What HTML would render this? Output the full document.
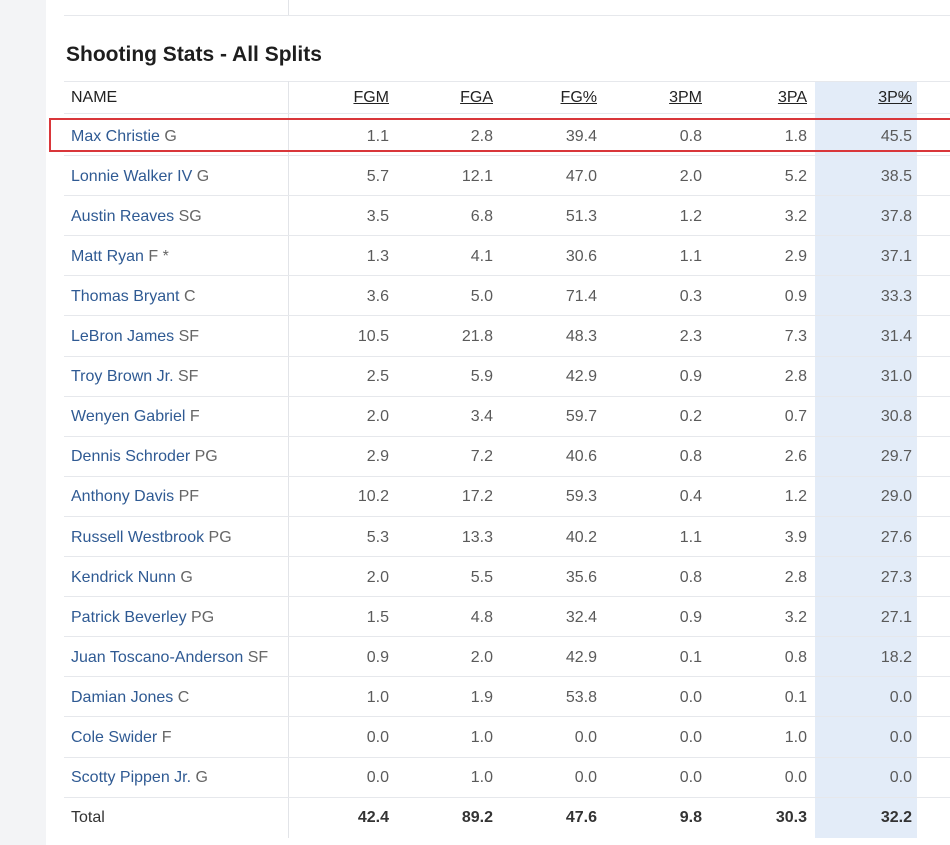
<!DOCTYPE html>
<html><head><style>
body{margin:0;width:950px;height:845px;overflow:hidden;background:#f3f4f6;font-family:"Liberation Sans",sans-serif;position:relative}
.panel{position:absolute;left:46px;top:0;width:904px;height:845px;background:#fff}
.abs{position:absolute}
.hl{position:absolute;left:815px;top:82px;width:102px;height:756px;background:#e3ecf8}
.line{position:absolute;left:64px;width:886px;height:1px;background:#e6e8ec}
.vline{position:absolute;left:288px;width:1px;background:#e2e4e8}
.row{position:absolute;left:0;width:950px;height:20px;font-size:16px;color:#5a5a5a}
.row .n{position:absolute;left:71px;color:#2f5a93}
.row .n span{color:#666}
.row .c{position:absolute;text-align:right;width:80px}
.hdr{font-size:16px;color:#222}
.hdr .c{text-decoration:underline}
.tot{color:#333;font-weight:bold}
.tot .n{color:#333;font-weight:normal}
</style></head><body>
<div class="panel"></div>
<div class="hl"></div>
<div class="line" style="top:15px"></div>
<div class="vline" style="top:0;height:15px"></div>
<div class="abs" style="left:66px;top:43px;font-size:21px;font-weight:bold;color:#1e1e1e">Shooting Stats - All Splits</div>
<div class="line" style="top:81px"></div>
<div class="vline" style="top:81px;height:757px"></div>
<div id="rows"></div>
<div class="abs" style="left:49px;top:118px;width:905px;height:30px;border:2px solid #d9363a"></div>
<svg class="abs" style="left:899px;top:93px" width="10" height="8"><polyline points="1,2 5,6 9,2" fill="none" stroke="#777" stroke-width="1.3"/></svg>
<script>
const R=[389,493,597,702,807,912];
const d=[
["Max Christie","G",1.1,2.8,39.4,0.8,1.8,45.5],
["Lonnie Walker IV","G",5.7,12.1,47.0,2.0,5.2,38.5],
["Austin Reaves","SG",3.5,6.8,51.3,1.2,3.2,37.8],
["Matt Ryan","F *",1.3,4.1,30.6,1.1,2.9,37.1],
["Thomas Bryant","C",3.6,5.0,71.4,0.3,0.9,33.3],
["LeBron James","SF",10.5,21.8,48.3,2.3,7.3,31.4],
["Troy Brown Jr.","SF",2.5,5.9,42.9,0.9,2.8,31.0],
["Wenyen Gabriel","F",2.0,3.4,59.7,0.2,0.7,30.8],
["Dennis Schroder","PG",2.9,7.2,40.6,0.8,2.6,29.7],
["Anthony Davis","PF",10.2,17.2,59.3,0.4,1.2,29.0],
["Russell Westbrook","PG",5.3,13.3,40.2,1.1,3.9,27.6],
["Kendrick Nunn","G",2.0,5.5,35.6,0.8,2.8,27.3],
["Patrick Beverley","PG",1.5,4.8,32.4,0.9,3.2,27.1],
["Juan Toscano-Anderson","SF",0.9,2.0,42.9,0.1,0.8,18.2],
["Damian Jones","C",1.0,1.9,53.8,0.0,0.1,0.0],
["Cole Swider","F",0.0,1.0,0.0,0.0,1.0,0.0],
["Scotty Pippen Jr.","G",0.0,1.0,0.0,0.0,0.0,0.0],
["Total","",42.4,89.2,47.6,9.8,30.3,32.2]];
let h='<div class="row hdr" style="top:89px"><div class="n" style="color:#222">NAME</div>';
["FGM","FGA","FG%","3PM","3PA","3P%"].forEach((t,i)=>h+=`<div class="c" style="left:${R[i]-80}px">${t}</div>`);
h+='</div>';
h+='<div class="line" style="top:113px"></div>';
d.forEach((r,k)=>{const y=127.5+k*40.1;
h+=`<div class="row${k==17?' tot':''}" style="top:${y}px"><div class="n">${r[0]}${r[1]?' <span>'+r[1]+'</span>':''}</div>`;
for(let i=0;i<6;i++)h+=`<div class="c" style="left:${R[i]-80}px">${r[i+2].toFixed(1)}</div>`;
h+='</div>';
if(k<17)h+=`<div class="line" style="top:${Math.round(y+27.5)}px"></div>`;});
document.getElementById('rows').innerHTML=h;
</script>
</body></html>
